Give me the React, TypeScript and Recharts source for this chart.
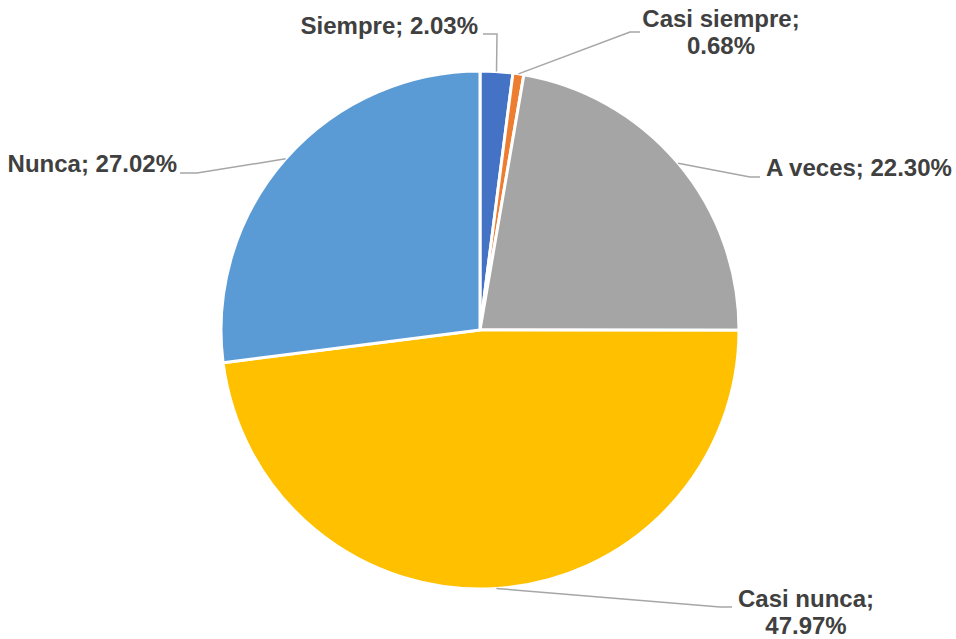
import { Cell, Pie, PieChart } from "recharts";

const categories = ["Siempre", "Casi siempre", "A veces", "Casi nunca", "Nunca"];
const percentages = [2.03, 0.68, 22.3, 47.97, 27.02];
const sliceColors = ["#4472C4", "#ED7D31", "#A5A5A5", "#FFC000", "#5B9BD5"];

const data = categories.map((name, i) => ({ name, value: percentages[i] }));

// where each callout goes: elbow of the leader line, its end, then the text
const labelLayout = [
  { elbow: [497, 34], end: [483, 34], text: [478, 34], anchor: "end", split: false },
  { elbow: [630, 32], end: [640, 32], text: [721, 27], anchor: "middle", split: true },
  { elbow: [750, 177], end: [760, 177], text: [766, 176], anchor: "start", split: false },
  { elbow: [720, 607], end: [732, 607], text: [806, 607], anchor: "middle", split: true },
  { elbow: [197, 173], end: [180, 173], text: [177, 172], anchor: "end", split: false },
];

const RADIAN = Math.PI / 180;

const renderLabel = (props: any) => {
  const { cx, cy, midAngle, outerRadius, index, name, value } = props;
  const layout = labelLayout[index];
  const sx = cx + outerRadius * Math.cos(-midAngle * RADIAN);
  const sy = cy + outerRadius * Math.sin(-midAngle * RADIAN);
  const pct = `${Number(value).toFixed(2)}%`;
  const lines = layout.split ? [`${name};`, pct] : [`${name}; ${pct}`];

  return (
    <g key={`label-${index}`}>
      <polyline
        points={`${sx},${sy} ${layout.elbow[0]},${layout.elbow[1]} ${layout.end[0]},${layout.end[1]}`}
        fill="none"
        stroke="#A6A6A6"
        strokeWidth={1.5}
      />
      <text
        x={layout.text[0]}
        y={layout.text[1]}
        textAnchor={layout.anchor}
        fill="#404040"
        fontFamily="'Liberation Sans', Arial, sans-serif"
        fontWeight="bold"
        fontSize={24}
      >
        {lines.map((line, i) => (
          <tspan key={i} x={layout.text[0]} dy={i === 0 ? 0 : 27}>
            {line}
          </tspan>
        ))}
      </text>
    </g>
  );
};

export default function App() {
  return (
    <div style={{ width: 956, height: 639, background: "#fff" }}>
      <style>{`body { margin: 0; }`}</style>
      <PieChart width={956} height={639} margin={{ top: 0, right: 0, bottom: 0, left: 0 }}>
        <Pie
          data={data}
          dataKey="value"
          nameKey="name"
          cx={480}
          cy={330}
          outerRadius={259}
          startAngle={90}
          endAngle={-270}
          stroke="#FFFFFF"
          strokeWidth={3}
          label={renderLabel}
          labelLine={false}
          isAnimationActive={false}
        >
          {data.map((entry, i) => (
            <Cell key={entry.name} fill={sliceColors[i]} />
          ))}
        </Pie>
      </PieChart>
    </div>
  );
}
